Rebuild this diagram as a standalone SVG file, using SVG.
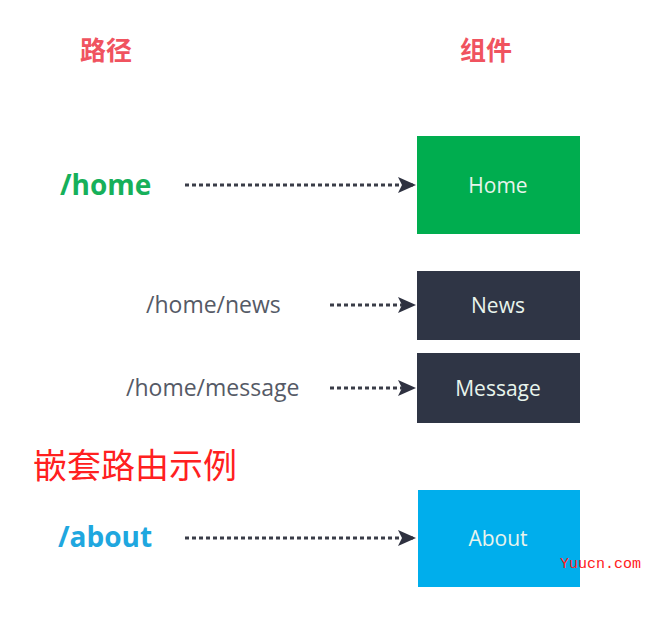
<svg xmlns="http://www.w3.org/2000/svg" width="670" height="618" viewBox="0 0 670 618">
<style>
.h{font-family:"Noto Sans CJK SC",sans-serif;font-weight:bold;font-size:26px;fill:#f0535f}
.p{font-family:"Open Sans","Noto Sans",sans-serif;font-size:23px;fill:#555a66}
.big{font-family:"Open Sans","Noto Sans",sans-serif;font-weight:bold;font-size:28px}
.bt{font-family:"Open Sans","Noto Sans",sans-serif;font-size:21px;fill:#e8f4ec;text-anchor:middle}
.c{stroke:#3a3d48;stroke-width:3;stroke-dasharray:4 3;fill:none;marker-end:url(#a)}
</style>
<defs><marker id="a" markerWidth="8" markerHeight="8" refX="7" refY="4" orient="auto" markerUnits="userSpaceOnUse" viewBox="0 0 8 8"><path d="M0,0L8,4L0,8z" fill="#2e3140"/></marker>
<marker id="a2" markerWidth="18" markerHeight="18" refX="16" refY="9" orient="auto" markerUnits="userSpaceOnUse" viewBox="0 0 18 18"><path d="M0,1L18,9L0,17L4,9z" fill="#2e3140"/></marker></defs>
<text class="h" x="80" y="60">路径</text>
<text class="h" x="460" y="60">组件</text>
<g id="home"><rect x="417" y="136" width="163" height="98" fill="#00ad4f"/><text class="bt" x="498" y="193">Home</text></g>
<g id="news"><rect x="417" y="271" width="163" height="69" fill="#2f3545"/><text class="bt" x="498" y="313">News</text></g>
<g id="message"><rect x="417" y="353" width="163" height="70" fill="#2f3545"/><text class="bt" x="498" y="396">Message</text></g>
<g id="about"><rect x="418" y="490" width="162" height="97" fill="#00aeec"/><text class="bt" x="498" y="546">About</text></g>
<text class="big" x="60" y="195" fill="#16b05a">/home</text>
<text class="p" x="146" y="313">/home/news</text>
<text class="p" x="126" y="396">/home/message</text>
<text class="big" x="58" y="547" fill="#1fa7df">/about</text>
<g id="connectors" style="marker-end:url(#a2)">
<path class="c" style="marker-end:url(#a2)" d="M185,185H414"/>
<path class="c" style="marker-end:url(#a2)" d="M330,305H414"/>
<path class="c" style="marker-end:url(#a2)" d="M330,388H414"/>
<path class="c" style="marker-end:url(#a2)" d="M185,538H414"/>
</g>
<text x="33" y="478" font-family="Noto Sans CJK SC,sans-serif" font-size="34" fill="#ff2020">嵌套路由示例</text>
<text x="560" y="568" font-family="Liberation Mono,monospace" font-size="15" fill="#ff2020">Yuucn.com</text>
</svg>
